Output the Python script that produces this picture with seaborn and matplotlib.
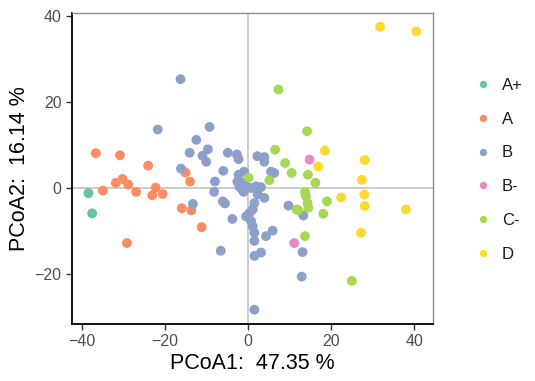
import pandas as pd
import matplotlib
matplotlib.use("Agg")
import matplotlib.pyplot as plt
import seaborn as sns

# PCoA coordinates per group
groups = ["A+", "A", "B", "B-", "C-", "D"]
colors = ["#66C2A5", "#FC8D62", "#8DA0CB", "#E78AC3", "#A6D854", "#FFD92F"]

x_a_plus = [-38.5, -37.6]
y_a_plus = [-1.2, -5.9]

x_a = [-36.7, -30.9, -24.1, -15.1, -14.0, -30.3, -31.9, -28.9, -35.0, -27.0,
       -22.3, -23.1, -20.6, -29.2, -16.0, -13.7, -11.2]
y_a = [8.1, 7.6, 5.2, 3.6, 1.5, 2.1, 1.2, 0.8, -0.6, -0.9,
       0.1, -1.7, -1.4, -12.8, -4.7, -5.2, -9.1]

x_b = [-16.3, -21.8, -9.3, -12.5, -9.7, -14.1, -11.0, -10.1, -4.9, -2.7,
       -2.3, -16.2, -13.3, -6.6, -6.0, -8.0, -8.2, -6.1, -5.6, -3.8,
       1.5, 1.1, 0.3, -0.5, 0.7, 1.1, 1.5, 4.3, 5.9, 1.5,
       3.1, 1.5, 2.3, 3.9, 1.5, 9.7, 13.3, 13.1, 12.9,
       2.2, 3.9, 3.9, 5.5, 6.3,
       -2.3, -1.0, -1.4, -1.4, -2.6, -0.5, 0.7, 1.9, 3.1, 2.2, -1.1, -2.1]
y_b = [25.3, 13.6, 14.2, 11.2, 9.0, 8.2, 7.5, 6.1, 8.2, 7.8,
       6.7, 4.5, -3.7, -14.6, 4.0, 1.5, -0.9, -3.1, -3.6, -7.2,
       -3.5, -5.0, -5.8, -6.6, -7.7, -8.9, -10.4, -11.2, -9.9, -12.3,
       -15.0, -15.8, -1.5, -2.3, -28.3, -4.1, -6.4, -14.9, -20.6,
       7.4, 7.2, 6.1, 3.8, 3.5,
       3.1, 3.8, 1.2, -0.4, 1.5, 0.4, 0.0, 0.4, 0.2, -0.6, -0.9, 0.3]

x_b_minus = [14.8, 11.1]
y_b_minus = [6.6, -12.8]

x_c_minus = [0.1, 6.5, 7.3, 14.2, 8.9, 10.5, 14.4, 16.2, 5.1, 13.7,
             13.9, 14.3, 14.5, 11.7, 12.1, 19.0, 18.1, 13.7, 25.0]
y_c_minus = [2.4, 8.9, 22.9, 13.2, 5.8, 3.5, 3.1, 1.2, 1.8, -0.9,
             -1.9, -3.5, -4.6, -5.0, -5.2, -3.1, -6.0, -11.2, -21.6]

x_d = [31.8, 40.5, 18.5, 16.9, 28.1, 27.4, 22.4, 28.0, 28.1, 38.0, 27.2]
y_d = [37.5, 36.4, 8.7, 5.0, 6.5, 1.9, -2.2, -1.5, -4.2, -5.0, -10.4]

xs = [x_a_plus, x_a, x_b, x_b_minus, x_c_minus, x_d]
ys = [y_a_plus, y_a, y_b, y_b_minus, y_c_minus, y_d]

frames = []
for g, x, y in zip(groups, xs, ys):
    frames.append(pd.DataFrame({"PCoA1": x, "PCoA2": y, "group": g}))
df = pd.concat(frames, ignore_index=True)

sns.set_style("white")
plt.rcParams['font.family'] = ['Liberation Sans', 'DejaVu Sans']

fig = plt.figure(figsize=(5.35, 3.81), dpi=100)
ax = fig.add_axes([0.1346, 0.150, 0.674, 0.817])

# zero reference lines
ax.axhline(0, color="#BEBEBE", lw=1.1, zorder=0)
ax.axvline(0, color="#BEBEBE", lw=1.1, zorder=0)

sns.scatterplot(data=df, x="PCoA1", y="PCoA2", hue="group", hue_order=groups,
                palette=dict(zip(groups, colors)), s=50, linewidth=0,
                edgecolor="none", ax=ax, zorder=3)

ax.set_xticks([-40, -20, 0, 20, 40])
ax.set_yticks([-20, 0, 20, 40])
ax.tick_params(axis="both", which="both", direction="out", length=4, width=1,
               color="#333333", labelcolor="#4D4D4D", labelsize=11.5,
               bottom=True, left=True)

for side in ["left", "bottom"]:
    ax.spines[side].set_color("black")
    ax.spines[side].set_linewidth(1.3)
for side in ["top", "right"]:
    ax.spines[side].set_color("#8C8C8C")
    ax.spines[side].set_linewidth(1.0)

ax.set_xlabel("PCoA1:  47.35 %", fontsize=15.5, color="black", labelpad=3)
ax.set_ylabel("PCoA2:  16.14 %", fontsize=15.5, color="black", labelpad=3)

leg = ax.legend(loc="center left", bbox_to_anchor=(1.076, 0.495), frameon=False,
                fontsize=12, markerscale=0.75, handletextpad=0.1,
                labelspacing=1.13, borderaxespad=0)
for t in leg.get_texts():
    t.set_color("#1A1A1A")

fig.savefig("out.png", dpi=100)
